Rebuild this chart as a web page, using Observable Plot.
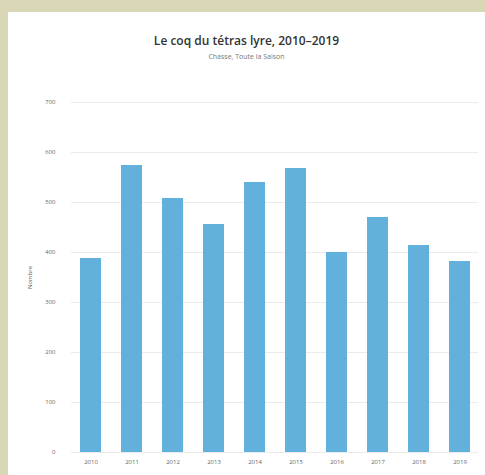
<!DOCTYPE html>
<html><head><meta charset="utf-8">
<script src="https://cdn.jsdelivr.net/npm/d3@7"></script>
<script src="https://cdn.jsdelivr.net/npm/@observablehq/plot@0.6"></script>
<style>
html,body{margin:0;padding:0;background:#d9d7b6;width:485px;height:475px;overflow:hidden;}
#card{position:absolute;left:8px;top:12px;width:477px;height:463px;background:#fff;font-family:"Open Sans","DejaVu Sans",sans-serif;}
#title{position:absolute;top:20px;width:100%;text-align:center;font-size:12px;font-weight:600;color:#333;}
#sub{position:absolute;top:40px;width:100%;text-align:center;font-size:7px;color:#777;}
#chart{position:absolute;top:60px;left:0;}
</style></head>
<body><div id="card"><div id="title">Le coq du tétras lyre, 2010–2019</div><div id="sub">Chasse, Toute la Saison</div><div id="chart"></div></div>
<script>
const years = ["2010","2011","2012","2013","2014","2015","2016","2017","2018","2019"];
const values = [388, 574, 508, 456, 540, 568, 400, 470, 414, 382];
const yTicks = [0,100,200,300,400,500,600,700];
const data = years.map((y,i)=>({year:y, value:values[i]}));
const chart = Plot.plot({
  width: 477, height: 403,
  marginTop: 30, marginBottom: 23, marginLeft: 63, marginRight: 7,
  style: {fontFamily: "'Open Sans', 'DejaVu Sans', sans-serif", fontSize: "6px", color: "#666", background: "#fff"},
  x: {domain: years, paddingInner: 0.5, paddingOuter: 0.2, label: null, tickSize: 0, tickPadding: 7},
  y: {domain: [0, 700], label: "Nombre"},
  marks: [
    Plot.gridY({ticks: yTicks, stroke: "#ebebeb", strokeOpacity: 1}),
    Plot.barY(data, {x: "year", y: "value", fill: "#62b1dd"}),
    Plot.axisY({ticks: yTicks, tickSize: 0, tickPadding: 16, label: "Nombre", labelAnchor: "center", labelArrow: "none", labelOffset: 44, fontSize: 6})
  ]
});
document.getElementById("chart").appendChild(chart);
</script></body></html>
